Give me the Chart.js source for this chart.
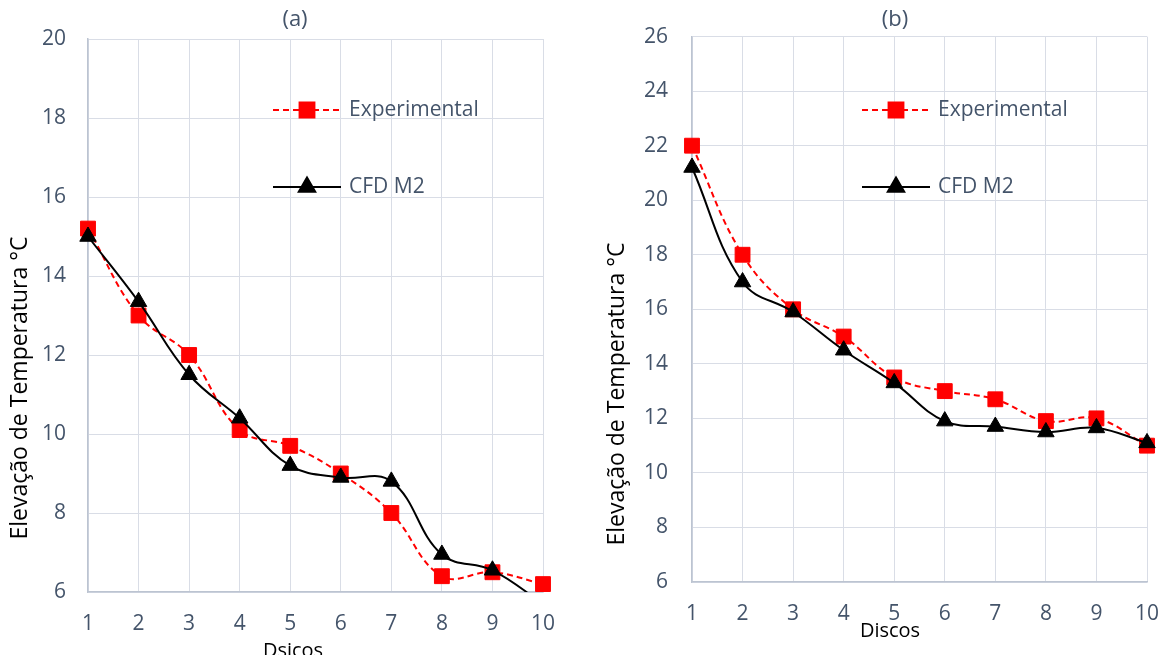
<!DOCTYPE html>
<html>
<head>
<meta charset="utf-8">
<script src="https://cdn.jsdelivr.net/npm/chart.js@4.4.1/dist/chart.umd.min.js"></script>
<style>
  html, body { margin: 0; background: #fff; overflow: hidden; }
  .box { position: absolute; top: 0; }
  canvas { display: block; }
</style>
</head>
<body>
<div class="box" style="left:0;width:580px;height:655px"><canvas id="chartA" width="580" height="655"></canvas></div>
<div class="box" style="left:590px;width:578px;height:655px"><canvas id="chartB" width="578" height="655"></canvas></div>
<script>
/* dados */
var discos = ['1', '2', '3', '4', '5', '6', '7', '8', '9', '10'];
var expA = [15.2, 13.0, 12.0, 10.1, 9.7, 9.0, 8.0, 6.4, 6.5, 6.2];
var cfdA = [15.0, 13.35, 11.5, 10.4, 9.2, 8.9, 8.8, 6.95, 6.55, 5.7];
var expB = [22.0, 18.0, 16.0, 15.0, 13.5, 13.0, 12.7, 11.9, 12.0, 11.0];
var cfdB = [21.2, 17.0, 15.9, 14.5, 13.3, 11.9, 11.7, 11.5, 11.65, 11.1];
var yRangeA = [6, 20];
var yRangeB = [6, 26];

var FONT = "'Open Sans', sans-serif";
var TXT = '#44546a';
var GRID = '#d9dde6';

/* titulos, eixos e legenda desenhados a mao */
var extras = {
    id: 'extras',
    afterDraw: function (chart, args, o) {
        var ctx = chart.ctx;
        ctx.save();
        ctx.textBaseline = 'middle';
        ctx.textAlign = 'center';

        ctx.fillStyle = TXT;
        ctx.font = '22px ' + FONT;
        ctx.fillText(o.title, o.titleX, 20);

        ctx.fillStyle = '#000';
        ctx.font = '20px ' + FONT;
        ctx.fillText(o.xTitle, o.xTitleX, o.xTitleY);

        ctx.save();
        ctx.translate(o.yTitleX, o.yTitleY);
        ctx.rotate(-Math.PI / 2);
        ctx.font = '23px ' + FONT;
        ctx.fillText('Elevação de Temperatura °C', 0, 0);
        ctx.restore();

        // legenda
        var ds = chart.data.datasets;
        var ys = [110, 187];
        for (var i = 0; i < ds.length; i++) {
            var d = ds[i];
            var y = ys[i];
            ctx.strokeStyle = d.borderColor;
            ctx.lineWidth = d.borderWidth;
            ctx.setLineDash(d.borderDash || []);
            ctx.beginPath();
            ctx.moveTo(o.legX, y);
            ctx.lineTo(o.legX + 68, y);
            ctx.stroke();
            ctx.setLineDash([]);
            ctx.fillStyle = d.backgroundColor;
            Chart.helpers.drawPoint(ctx, {
                pointStyle: d.pointStyle,
                radius: d.pointRadius,
                rotation: 0,
                borderWidth: 1
            }, o.legX + 34, y);
            ctx.fillStyle = TXT;
            ctx.font = '21px ' + FONT;
            ctx.textAlign = 'left';
            ctx.fillText(d.label, o.legX + 76, y);
            ctx.textAlign = 'center';
        }
        ctx.restore();
    }
};

function makeChart(id, exp, cfd, yRange, lay) {
    var ctx = document.getElementById(id).getContext('2d');
    return new Chart(ctx, {
        type: 'line',
        data: {
            labels: discos,
            datasets: [{
                label: 'Experimental',
                data: exp,
                borderColor: '#ff0000',
                backgroundColor: '#ff0000',
                borderWidth: 2,
                borderDash: [6, 4],
                pointStyle: 'rect',
                pointRadius: 10.5,
                pointBorderWidth: 1,
                tension: 0.4,
                order: 1,
                clip: { left: false, top: false, right: false, bottom: 0 }
            }, {
                label: 'CFD M2',
                data: cfd,
                borderColor: '#000000',
                backgroundColor: '#000000',
                borderWidth: 2,
                pointStyle: 'triangle',
                pointRadius: 9.5,
                pointBorderWidth: 1,
                tension: 0.4,
                order: 0,
                clip: { left: false, top: false, right: false, bottom: 0 }
            }]
        },
        options: {
            responsive: false,
            animation: false,
            layout: { padding: { top: lay.top, right: lay.right, left: 0, bottom: 0 } },
            plugins: {
                legend: { display: false },
                tooltip: { enabled: false },
                extras: lay.extras
            },
            scales: {
                x: {
                    grid: { color: GRID, drawTicks: false },
                    border: { color: '#bcc4d1', width: 1.5 },
                    ticks: { color: TXT, font: { family: FONT, size: 21 }, padding: 19, maxRotation: 0 },
                    afterFit: function (s) {
                        s.height = lay.xh;
                        s.paddingLeft = 0;
                        s.paddingRight = 12;
                    }
                },
                y: {
                    min: yRange[0],
                    max: yRange[1],
                    grid: { color: GRID, drawTicks: false },
                    border: { color: '#bcc4d1', width: 1.5 },
                    ticks: { stepSize: 2, color: TXT, font: { family: FONT, size: 21 }, padding: lay.tickPad },
                    afterFit: function (s) { s.width = lay.yw; }
                }
            }
        },
        plugins: [extras]
    });
}

makeChart('chartA', expA, cfdA, yRangeA, {
    top: 39, right: 37, xh: 63, yw: 88, tickPad: 22,
    extras: { title: '(a)', titleX: 295, xTitle: 'Dsicos', xTitleX: 293, xTitleY: 651,
              yTitleX: 20, yTitleY: 388, legX: 273 }
});
makeChart('chartB', expB, cfdB, yRangeB, {
    top: 36, right: 21, xh: 73, yw: 102, tickPad: 24,
    extras: { title: '(b)', titleX: 305, xTitle: 'Discos', xTitleX: 300, xTitleY: 631,
              yTitleX: 27, yTitleY: 394, legX: 272 }
});
</script>
</body>
</html>
